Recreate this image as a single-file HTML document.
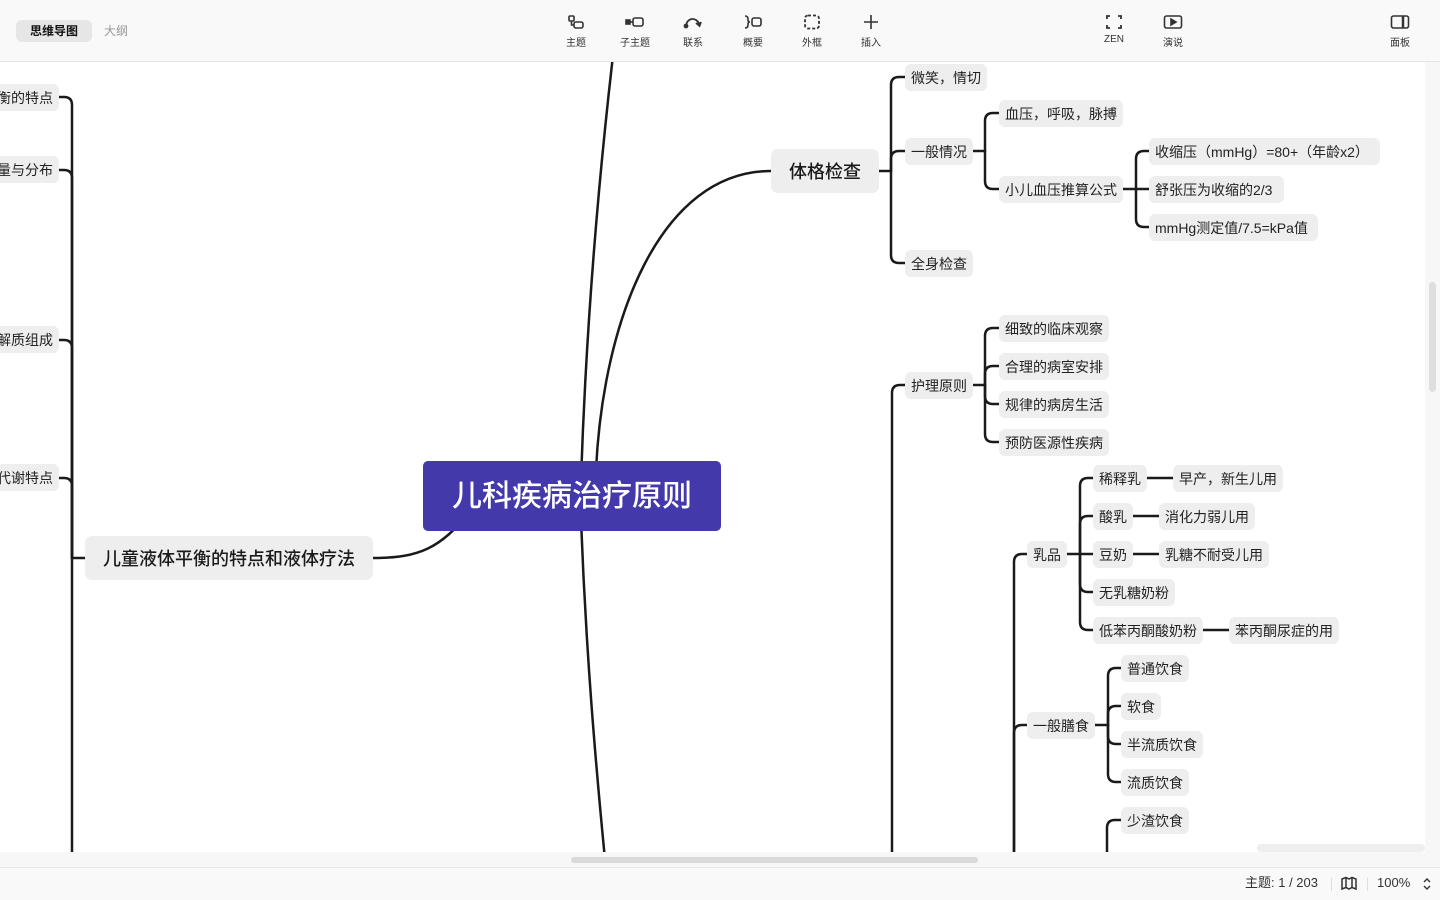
<!DOCTYPE html>
<html><head><meta charset="utf-8">
<style>
*{margin:0;padding:0;box-sizing:border-box;}
html,body{width:1440px;height:900px;overflow:hidden;}
body{background:#fff;font-family:"Liberation Sans","Noto Sans CJK SC",sans-serif;color:#1f1f1f;position:relative;}
#canvas{position:absolute;left:0;top:62px;width:1425px;height:790px;overflow:hidden;background:#fff;}
#inner{position:absolute;left:0;top:-62px;width:1425px;height:852px;overflow:hidden;}
.n{position:absolute;height:27px;line-height:28px;background:#eeeeee;border-radius:6px;font-size:14px;padding:0 6px;white-space:nowrap;color:#222;}
.m{position:absolute;height:44px;line-height:46px;background:#eeeeee;border-radius:7px;font-size:18px;font-weight:500;white-space:nowrap;text-align:center;color:#1a1a1a;}
.ln{position:absolute;height:27px;line-height:28px;background:#eeeeee;border-radius:6px;font-size:14px;padding-right:6px;white-space:nowrap;text-align:right;left:-60px;width:119px;overflow:hidden;color:#222;}
#top{position:absolute;left:0;top:0;width:1440px;height:62px;background:#f9f9f9;border-bottom:1px solid #e6e6e6;}
.tab{position:absolute;top:20px;height:22px;line-height:23px;font-size:12px;}
.tb{position:absolute;top:14px;width:50px;text-align:center;font-size:10px;color:#333;}
.tb svg{display:block;margin:0 auto 4px;}
#hs{position:absolute;left:0;top:852px;width:1440px;height:16px;background:#f7f7f7;}
#bot{position:absolute;left:0;top:867px;width:1440px;height:33px;background:#f9f9f9;border-top:1px solid #e6e6e6;font-size:13px;color:#333;}
</style></head><body>
<div id="canvas"><div id="inner">
<svg width="1425" height="852" style="position:absolute;left:0;top:0" fill="none" stroke="#1a1a1a" stroke-width="2.5" stroke-linecap="round">
<path d="M581,480 C586,330 598,180 616,30"/>
<path d="M596,470 C603,320 660,171 771,171"/>
<path d="M581,520 C586,650 595,760 608,890"/>
<path d="M373,558 C420,558 440,548 470,512"/>
<path d="M85,558 L72,558"/>
<path d="M72,900 L72,105 Q72,97 64,97 L59,97"/>
<path d="M72,558 L72,178 Q72,170 64,170 L59,170"/>
<path d="M72,558 L72,348 Q72,340 64,340 L59,340"/>
<path d="M72,558 L72,486 Q72,478 64,478 L59,478"/>
<path d="M879,171 L891,171"/>
<path d="M891,171 L891,85 Q891,77 899,77 L905,77"/>
<path d="M891,171 L891,159 Q891,151 899,151 L905,151"/>
<path d="M891,171 L891,255 Q891,263 899,263 L905,263"/>
<path d="M973,151 L985,151"/>
<path d="M985,151 L985,121 Q985,113 993,113 L999,113"/>
<path d="M985,151 L985,181 Q985,189 993,189 L999,189"/>
<path d="M1123,189 L1149,189"/>
<path d="M1136,189 L1136,159 Q1136,151 1144,151 L1149,151"/>
<path d="M1136,189 L1136,219 Q1136,227 1144,227 L1149,227"/>
<path d="M892,900 L892,393 Q892,385 900,385 L905,385"/>
<path d="M973,385 L985,385"/>
<path d="M985,385 L985,336 Q985,328 993,328 L999,328"/>
<path d="M985,385 L985,374 Q985,366 993,366 L999,366"/>
<path d="M985,385 L985,396 Q985,404 993,404 L999,404"/>
<path d="M985,385 L985,434 Q985,442 993,442 L999,442"/>
<path d="M1014,900 L1014,562 Q1014,554 1022,554 L1027,554"/>
<path d="M1014,900 L1014,733 Q1014,725 1022,725 L1027,725"/>
<path d="M1067,554 L1093,554"/>
<path d="M1080,554 L1080,486 Q1080,478 1088,478 L1093,478"/>
<path d="M1080,554 L1080,524 Q1080,516 1088,516 L1093,516"/>
<path d="M1080,554 L1080,584 Q1080,592 1088,592 L1093,592"/>
<path d="M1080,554 L1080,622 Q1080,630 1088,630 L1093,630"/>
<path d="M1147,478 L1173,478"/>
<path d="M1133,516 L1159,516"/>
<path d="M1133,554 L1159,554"/>
<path d="M1203,630 L1229,630"/>
<path d="M1095,725 L1108,725"/>
<path d="M1108,725 L1108,676 Q1108,668 1116,668 L1121,668"/>
<path d="M1108,725 L1108,714 Q1108,706 1116,706 L1121,706"/>
<path d="M1108,725 L1108,736 Q1108,744 1116,744 L1121,744"/>
<path d="M1108,725 L1108,774 Q1108,782 1116,782 L1121,782"/>
<path d="M1107,900 L1107,828 Q1107,820 1115,820 L1121,820"/>
</svg>

<div style="position:absolute;left:423px;top:461px;width:298px;height:70px;background:#4339ab;border-radius:5px;color:#fff;font-size:30px;font-weight:500;line-height:72px;text-align:center;">儿科疾病治疗原则</div>

<div class="m" style="left:85px;top:536px;width:288px;">儿童液体平衡的特点和液体疗法</div>
<div class="ln" style="top:84px;">液体平衡的特点</div>
<div class="ln" style="top:156px;">体液总量与分布</div>
<div class="ln" style="top:326px;">体液电解质组成</div>
<div class="ln" style="top:464px;">水的代谢特点</div>

<div class="m" style="left:771px;top:149px;width:108px;">体格检查</div>
<div class="n" style="left:905px;top:64px;">微笑，情切</div>
<div class="n" style="left:905px;top:138px;">一般情况</div>
<div class="n" style="left:905px;top:250px;">全身检查</div>
<div class="n" style="left:999px;top:100px;">血压，呼吸，脉搏</div>
<div class="n" style="left:999px;top:176px;">小儿血压推算公式</div>
<div class="n" style="left:1149px;top:138px;width:231px;">收缩压（mmHg）=80+（年龄x2）</div>
<div class="n" style="left:1149px;top:176px;width:135px;">舒张压为收缩的2/3</div>
<div class="n" style="left:1149px;top:214px;width:169px;">mmHg测定值/7.5=kPa值</div>

<div class="n" style="left:905px;top:372px;">护理原则</div>
<div class="n" style="left:999px;top:315px;">细致的临床观察</div>
<div class="n" style="left:999px;top:353px;">合理的病室安排</div>
<div class="n" style="left:999px;top:391px;">规律的病房生活</div>
<div class="n" style="left:999px;top:429px;">预防医源性疾病</div>

<div class="n" style="left:1027px;top:541px;">乳品</div>
<div class="n" style="left:1093px;top:465px;">稀释乳</div>
<div class="n" style="left:1173px;top:465px;">早产，新生儿用</div>
<div class="n" style="left:1093px;top:503px;">酸乳</div>
<div class="n" style="left:1159px;top:503px;">消化力弱儿用</div>
<div class="n" style="left:1093px;top:541px;">豆奶</div>
<div class="n" style="left:1159px;top:541px;">乳糖不耐受儿用</div>
<div class="n" style="left:1093px;top:579px;">无乳糖奶粉</div>
<div class="n" style="left:1093px;top:617px;">低苯丙酮酸奶粉</div>
<div class="n" style="left:1229px;top:617px;">苯丙酮尿症的用</div>

<div class="n" style="left:1027px;top:712px;">一般膳食</div>
<div class="n" style="left:1121px;top:655px;">普通饮食</div>
<div class="n" style="left:1121px;top:693px;">软食</div>
<div class="n" style="left:1121px;top:731px;">半流质饮食</div>
<div class="n" style="left:1121px;top:769px;">流质饮食</div>
<div class="n" style="left:1121px;top:807px;">少渣饮食</div>
<div class="n" style="left:1257px;top:844px;width:168px;height:8px;"></div>
</div></div>

<div style="position:absolute;left:1425px;top:62px;width:15px;height:790px;background:#f7f7f7;"></div>
<div style="position:absolute;left:1429px;top:282px;width:7px;height:110px;background:#dedede;border-radius:4px;"></div>

<div id="hs"><div style="position:absolute;left:571px;top:5px;width:407px;height:6px;background:#d9d9d9;border-radius:3px;"></div></div>

<div id="top">
  <div class="tab" style="left:16px;width:76px;background:#e6e6e6;border-radius:6px;text-align:center;font-weight:bold;color:#111;">思维导图</div>
  <div class="tab" style="left:104px;color:#999;">大纲</div>

  <div class="tb" style="left:551px;"><svg width="18" height="16" viewBox="0 0 18 16" fill="none" stroke="#333" stroke-width="1.6"><rect x="2" y="2" width="5" height="5" rx="1"/><path d="M4.5 7 V11 H7"/><rect x="7" y="8" width="9" height="6" rx="2"/></svg>主题</div>
  <div class="tb" style="left:610px;"><svg width="20" height="16" viewBox="0 0 20 16" fill="none" stroke="#333" stroke-width="1.6"><rect x="1" y="6" width="4" height="4" fill="#333"/><path d="M5 8 H8"/><rect x="8" y="4" width="10" height="8" rx="2"/></svg>子主题</div>
  <div class="tb" style="left:668px;"><svg width="20" height="16" viewBox="0 0 20 16" fill="none" stroke="#333" stroke-width="1.8"><path d="M3 12 C4 3 14 3 16 10"/><path d="M13 9 L16.5 12 L18 8" fill="#333"/><circle cx="3" cy="12" r="1.5" fill="#333"/></svg>联系</div>
  <div class="tb" style="left:728px;"><svg width="20" height="16" viewBox="0 0 20 16" fill="none" stroke="#333" stroke-width="1.6"><path d="M2 2 Q5 2 5 5 V6 Q5 8 7 8 Q5 8 5 10 V11 Q5 14 2 14"/><rect x="9" y="4" width="9" height="8" rx="2"/></svg>概要</div>
  <div class="tb" style="left:787px;"><svg width="18" height="16" viewBox="0 0 18 16" fill="none" stroke="#333" stroke-width="1.8" stroke-dasharray="3 2"><rect x="2" y="1.5" width="14" height="13" rx="3"/></svg>外框</div>
  <div class="tb" style="left:846px;"><svg width="18" height="16" viewBox="0 0 18 16" fill="none" stroke="#333" stroke-width="1.6"><path d="M9 1 V15 M2 8 H16"/></svg>插入</div>

  <div class="tb" style="left:1089px;"><svg width="18" height="16" viewBox="0 0 18 16" fill="none" stroke="#333" stroke-width="1.8"><path d="M2 5 V2 H5 M13 2 H16 V5 M16 11 V14 H13 M5 14 H2 V11"/></svg>ZEN</div>
  <div class="tb" style="left:1148px;"><svg width="20" height="16" viewBox="0 0 20 16" fill="none" stroke="#333" stroke-width="1.6"><rect x="1.5" y="2" width="17" height="12" rx="2"/><path d="M8 5 L13 8 L8 11 Z" fill="#333"/></svg>演说</div>
  <div class="tb" style="left:1375px;"><svg width="20" height="16" viewBox="0 0 20 16" fill="none" stroke="#333" stroke-width="1.6"><rect x="1.5" y="2" width="17" height="12" rx="2"/><path d="M13 2 V14" stroke-width="2.5"/></svg>面板</div>
</div>

<div id="bot">
  <div style="position:absolute;left:1245px;top:7px;line-height:16px;">主题: 1 / 203</div>
  <div style="position:absolute;left:1331px;top:10px;width:1px;height:13px;background:#ddd;"></div>
  <svg style="position:absolute;left:1341px;top:8px;" width="16" height="15" viewBox="0 0 16 15" fill="none" stroke="#333" stroke-width="1.5"><path d="M1 3 L5 1.5 L8 3 L11 1.5 L15 3 V13 L11 11.5 L8 13 L5 11.5 L1 13 Z"/><path d="M5 1.5 V11.5 M11 1.5 V11.5"/></svg>
  <div style="position:absolute;left:1367px;top:10px;width:1px;height:13px;background:#ddd;"></div>
  <div style="position:absolute;left:1377px;top:7px;line-height:16px;">100%</div>
  <svg style="position:absolute;left:1422px;top:8px;" width="10" height="16" viewBox="0 0 10 16" fill="none" stroke="#333" stroke-width="1.4"><path d="M2 6 L5 3 L8 6 M2 10 L5 13 L8 10"/></svg>
</div>
</body></html>
